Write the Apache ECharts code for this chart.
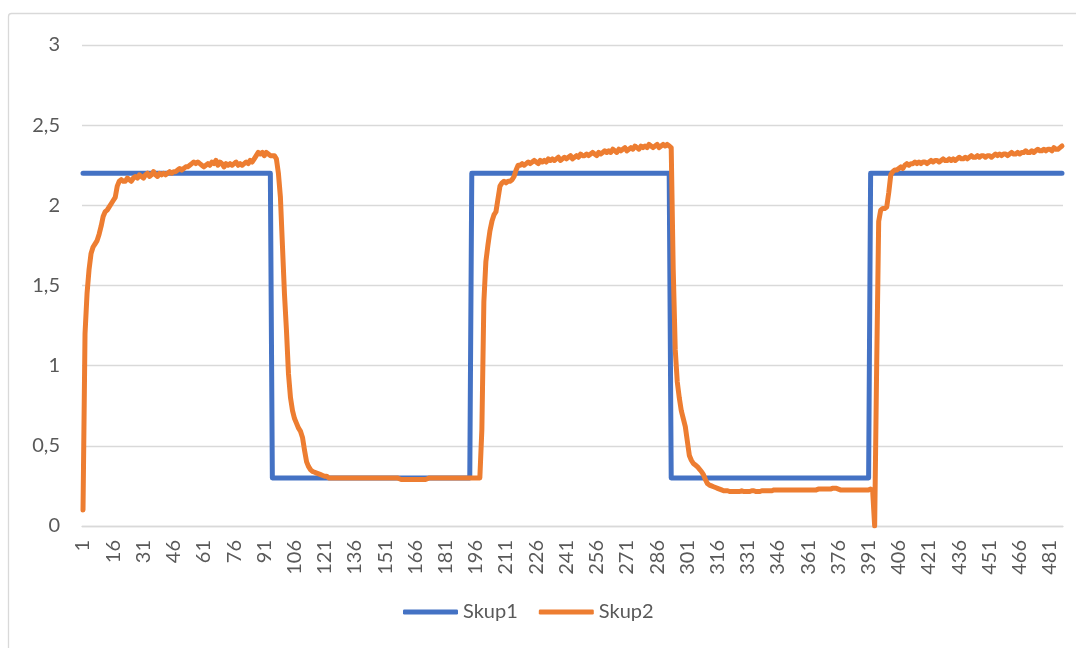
<!DOCTYPE html>
<html>
<head>
<meta charset="utf-8">
<script src="https://cdn.jsdelivr.net/npm/echarts@6/dist/echarts.min.js"></script>
<style>
html,body{margin:0;padding:0;background:#fff;}
#chart{width:1076px;height:648px;}
</style>
</head>
<body>
<div id="chart"></div>
<script>
// Series values (one value per category 1..487)
const skup1 = [
2.2,2.2,2.2,2.2,2.2,2.2,2.2,2.2,2.2,2.2,
2.2,2.2,2.2,2.2,2.2,2.2,2.2,2.2,2.2,2.2,
2.2,2.2,2.2,2.2,2.2,2.2,2.2,2.2,2.2,2.2,
2.2,2.2,2.2,2.2,2.2,2.2,2.2,2.2,2.2,2.2,
2.2,2.2,2.2,2.2,2.2,2.2,2.2,2.2,2.2,2.2,
2.2,2.2,2.2,2.2,2.2,2.2,2.2,2.2,2.2,2.2,
2.2,2.2,2.2,2.2,2.2,2.2,2.2,2.2,2.2,2.2,
2.2,2.2,2.2,2.2,2.2,2.2,2.2,2.2,2.2,2.2,
2.2,2.2,2.2,2.2,2.2,2.2,2.2,2.2,2.2,2.2,
2.2,2.2,2.2,2.2,0.3,0.3,0.3,0.3,0.3,0.3,
0.3,0.3,0.3,0.3,0.3,0.3,0.3,0.3,0.3,0.3,
0.3,0.3,0.3,0.3,0.3,0.3,0.3,0.3,0.3,0.3,
0.3,0.3,0.3,0.3,0.3,0.3,0.3,0.3,0.3,0.3,
0.3,0.3,0.3,0.3,0.3,0.3,0.3,0.3,0.3,0.3,
0.3,0.3,0.3,0.3,0.3,0.3,0.3,0.3,0.3,0.3,
0.3,0.3,0.3,0.3,0.3,0.3,0.3,0.3,0.3,0.3,
0.3,0.3,0.3,0.3,0.3,0.3,0.3,0.3,0.3,0.3,
0.3,0.3,0.3,0.3,0.3,0.3,0.3,0.3,0.3,0.3,
0.3,0.3,0.3,0.3,0.3,0.3,0.3,0.3,0.3,0.3,
0.3,0.3,0.3,2.2,2.2,2.2,2.2,2.2,2.2,2.2,
2.2,2.2,2.2,2.2,2.2,2.2,2.2,2.2,2.2,2.2,
2.2,2.2,2.2,2.2,2.2,2.2,2.2,2.2,2.2,2.2,
2.2,2.2,2.2,2.2,2.2,2.2,2.2,2.2,2.2,2.2,
2.2,2.2,2.2,2.2,2.2,2.2,2.2,2.2,2.2,2.2,
2.2,2.2,2.2,2.2,2.2,2.2,2.2,2.2,2.2,2.2,
2.2,2.2,2.2,2.2,2.2,2.2,2.2,2.2,2.2,2.2,
2.2,2.2,2.2,2.2,2.2,2.2,2.2,2.2,2.2,2.2,
2.2,2.2,2.2,2.2,2.2,2.2,2.2,2.2,2.2,2.2,
2.2,2.2,2.2,2.2,2.2,2.2,2.2,2.2,2.2,2.2,
2.2,2.2,0.3,0.3,0.3,0.3,0.3,0.3,0.3,0.3,
0.3,0.3,0.3,0.3,0.3,0.3,0.3,0.3,0.3,0.3,
0.3,0.3,0.3,0.3,0.3,0.3,0.3,0.3,0.3,0.3,
0.3,0.3,0.3,0.3,0.3,0.3,0.3,0.3,0.3,0.3,
0.3,0.3,0.3,0.3,0.3,0.3,0.3,0.3,0.3,0.3,
0.3,0.3,0.3,0.3,0.3,0.3,0.3,0.3,0.3,0.3,
0.3,0.3,0.3,0.3,0.3,0.3,0.3,0.3,0.3,0.3,
0.3,0.3,0.3,0.3,0.3,0.3,0.3,0.3,0.3,0.3,
0.3,0.3,0.3,0.3,0.3,0.3,0.3,0.3,0.3,0.3,
0.3,0.3,0.3,0.3,0.3,0.3,0.3,0.3,0.3,0.3,
0.3,2.2,2.2,2.2,2.2,2.2,2.2,2.2,2.2,2.2,
2.2,2.2,2.2,2.2,2.2,2.2,2.2,2.2,2.2,2.2,
2.2,2.2,2.2,2.2,2.2,2.2,2.2,2.2,2.2,2.2,
2.2,2.2,2.2,2.2,2.2,2.2,2.2,2.2,2.2,2.2,
2.2,2.2,2.2,2.2,2.2,2.2,2.2,2.2,2.2,2.2,
2.2,2.2,2.2,2.2,2.2,2.2,2.2,2.2,2.2,2.2,
2.2,2.2,2.2,2.2,2.2,2.2,2.2,2.2,2.2,2.2,
2.2,2.2,2.2,2.2,2.2,2.2,2.2,2.2,2.2,2.2,
2.2,2.2,2.2,2.2,2.2,2.2,2.2,2.2,2.2,2.2,
2.2,2.2,2.2,2.2,2.2,2.2,2.2
];

const skup2 = [
0.10,1.20,1.45,1.60,1.70,1.74,1.76,1.78,1.82,1.87,
1.93,1.96,1.97,1.99,2.01,2.03,2.05,2.12,2.15,2.16,
2.15,2.15,2.17,2.16,2.15,2.17,2.18,2.17,2.19,2.18,
2.17,2.19,2.20,2.18,2.19,2.21,2.19,2.18,2.20,2.19,
2.20,2.19,2.20,2.21,2.20,2.21,2.21,2.22,2.23,2.22,
2.23,2.24,2.24,2.25,2.26,2.27,2.26,2.27,2.26,2.25,
2.24,2.25,2.26,2.25,2.27,2.26,2.28,2.25,2.27,2.26,
2.24,2.26,2.25,2.26,2.25,2.26,2.27,2.25,2.26,2.25,
2.26,2.27,2.26,2.28,2.27,2.29,2.31,2.33,2.32,2.33,
2.31,2.33,2.32,2.31,2.31,2.31,2.29,2.20,2.05,1.75,
1.45,1.22,0.95,0.80,0.72,0.67,0.64,0.61,0.59,0.55,
0.47,0.40,0.37,0.35,0.34,0.335,0.33,0.325,0.32,0.315,
0.31,0.31,0.30,0.30,0.30,0.30,0.30,0.30,0.30,0.30,
0.30,0.30,0.30,0.30,0.30,0.30,0.30,0.30,0.30,0.30,
0.30,0.30,0.30,0.30,0.30,0.30,0.30,0.30,0.30,0.30,
0.30,0.30,0.30,0.30,0.30,0.30,0.30,0.295,0.29,0.29,
0.29,0.29,0.29,0.29,0.29,0.29,0.29,0.29,0.29,0.29,
0.29,0.295,0.30,0.30,0.30,0.30,0.30,0.30,0.30,0.30,
0.30,0.30,0.30,0.30,0.30,0.30,0.30,0.30,0.30,0.30,
0.30,0.30,0.30,0.30,0.30,0.30,0.30,0.30,0.60,1.40,
1.65,1.75,1.84,1.90,1.94,1.96,2.04,2.12,2.14,2.15,
2.14,2.15,2.15,2.16,2.18,2.22,2.25,2.25,2.26,2.25,
2.26,2.27,2.26,2.27,2.28,2.27,2.26,2.28,2.27,2.28,
2.27,2.29,2.28,2.29,2.28,2.29,2.30,2.28,2.29,2.30,
2.29,2.30,2.31,2.29,2.30,2.31,2.30,2.32,2.31,2.31,
2.32,2.31,2.32,2.33,2.32,2.31,2.33,2.32,2.33,2.34,
2.33,2.34,2.33,2.35,2.34,2.33,2.35,2.34,2.35,2.36,
2.34,2.35,2.36,2.35,2.37,2.36,2.35,2.37,2.36,2.37,
2.36,2.38,2.37,2.36,2.37,2.38,2.36,2.37,2.38,2.37,
2.38,2.37,2.36,1.60,1.10,0.90,0.80,0.72,0.67,0.62,
0.53,0.44,0.41,0.39,0.38,0.37,0.355,0.34,0.32,0.29,
0.265,0.255,0.25,0.245,0.24,0.235,0.23,0.225,0.22,0.22,
0.22,0.215,0.215,0.215,0.215,0.215,0.215,0.22,0.215,0.215,
0.215,0.215,0.22,0.22,0.215,0.215,0.215,0.22,0.22,0.22,
0.22,0.22,0.22,0.225,0.225,0.225,0.225,0.225,0.225,0.225,
0.225,0.225,0.225,0.225,0.225,0.225,0.225,0.225,0.225,0.225,
0.225,0.225,0.225,0.225,0.225,0.23,0.23,0.23,0.23,0.23,
0.23,0.23,0.235,0.235,0.235,0.23,0.225,0.225,0.225,0.225,
0.225,0.225,0.225,0.225,0.225,0.225,0.225,0.225,0.225,0.225,
0.225,0.23,0.22,0.00,1.00,1.90,1.97,1.98,1.98,1.99,
2.08,2.19,2.21,2.22,2.22,2.23,2.24,2.23,2.25,2.26,
2.25,2.26,2.26,2.27,2.26,2.27,2.26,2.27,2.27,2.26,
2.27,2.28,2.27,2.28,2.28,2.27,2.28,2.29,2.28,2.28,
2.29,2.28,2.29,2.28,2.29,2.30,2.29,2.29,2.30,2.29,
2.30,2.31,2.30,2.30,2.31,2.30,2.31,2.31,2.30,2.31,
2.31,2.30,2.31,2.32,2.31,2.32,2.31,2.32,2.32,2.31,
2.32,2.33,2.32,2.32,2.33,2.32,2.33,2.33,2.34,2.33,
2.33,2.34,2.33,2.34,2.35,2.34,2.34,2.35,2.34,2.35,
2.35,2.34,2.36,2.35,2.35,2.36,2.37
];

const seriesNames = ['Skup1', 'Skup2'];
const yTicks = [0, 0.5, 1, 1.5, 2, 2.5, 3];

// Category labels 1..N
const categories = [];
for (let i = 1; i <= skup2.length; i++) categories.push(String(i));

const FONT = 'Lato, "Open Sans", "Liberation Sans", sans-serif';
const TXT = '#595959';
const GRID = '#d9d9d9';

const chart = echarts.init(document.getElementById('chart'), null, {renderer: 'canvas'});
chart.setOption({
  animation: false,
  backgroundColor: '#ffffff',
  textStyle: {fontFamily: FONT},
  graphic: [{
    type: 'rect',
    shape: {x: 8.5, y: 13.5, width: 2000, height: 2000, r: 3},
    style: {fill: 'none', stroke: GRID, lineWidth: 1.3},
    silent: true, z: -10
  }],
  grid: {left: 82, right: 13, top: 45, bottom: 122, containLabel: false},
  legend: {
    data: seriesNames,
    left: 398, top: 597,
    icon: 'roundRect',
    itemWidth: 55, itemHeight: 5,
    itemGap: 21,
    textStyle: {fontFamily: FONT, fontSize: 20, color: TXT, padding: [0, 0, 0, 0]}
  },
  xAxis: {
    type: 'category',
    data: categories,
    boundaryGap: true,
    axisLine: {show: true, lineStyle: {color: GRID, width: 1.3}},
    axisTick: {show: false},
    splitLine: {show: false},
    axisLabel: {
      interval: 14,
      rotate: 90,
      margin: 14,
      fontFamily: FONT,
      fontSize: 20,
      color: TXT
    }
  },
  yAxis: {
    type: 'value',
    min: yTicks[0],
    max: yTicks[yTicks.length - 1],
    interval: 0.5,
    axisLine: {show: false},
    axisTick: {show: false},
    splitLine: {show: true, lineStyle: {color: GRID, width: 1.3}},
    axisLabel: {
      margin: 22,
      fontFamily: FONT,
      fontSize: 20,
      color: TXT,
      formatter: v => String(v).replace('.', ',')
    }
  },
  series: [
    {
      name: seriesNames[0], type: 'line', data: skup1,
      showSymbol: false, symbol: 'none',
      lineStyle: {color: '#4472c4', width: 5, join: 'round', cap: 'round'},
      itemStyle: {color: '#4472c4'},
      z: 2
    },
    {
      name: seriesNames[1], type: 'line', data: skup2,
      showSymbol: false, symbol: 'none',
      lineStyle: {color: '#ed7d31', width: 5, join: 'round', cap: 'round'},
      itemStyle: {color: '#ed7d31'},
      z: 3
    }
  ]
});
</script>
</body>
</html>
